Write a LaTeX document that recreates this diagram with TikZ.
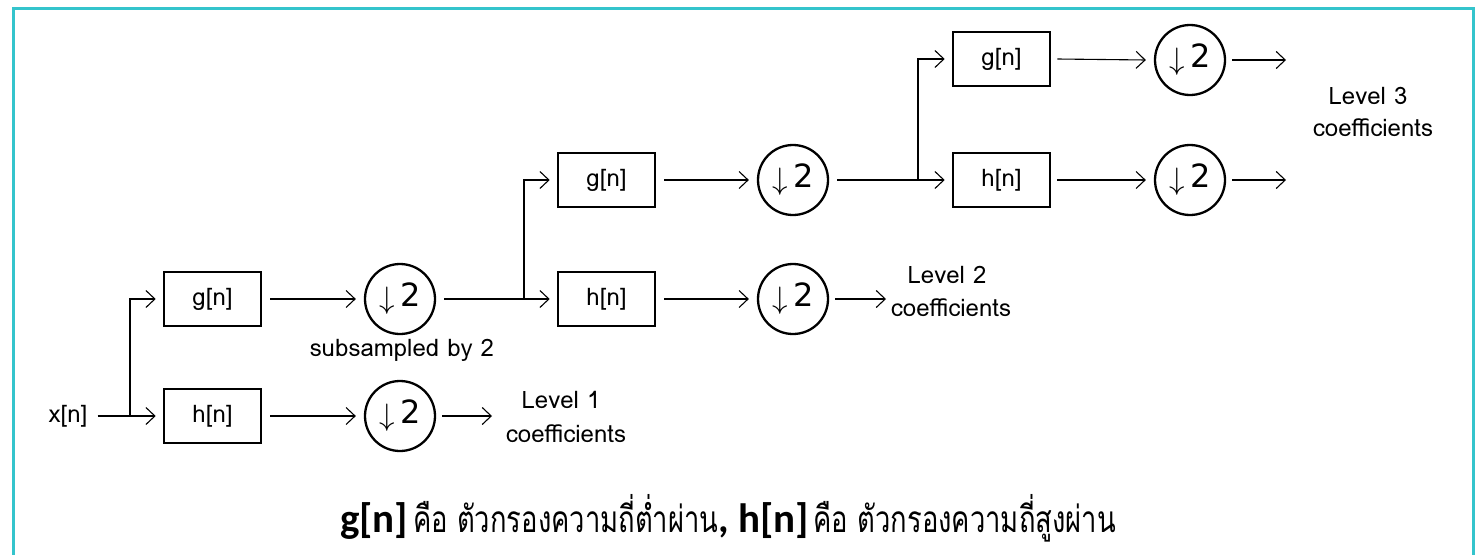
\documentclass[tikz,border=0pt]{standalone}
\usepackage{fontspec}
\usetikzlibrary{arrows.meta}
\newfontfamily\thaifont[Script=Thai]{Loma}
\newfontfamily\latfont{Loma}
\newfontfamily\dvfont{DejaVu Sans}
\newfontfamily\carlfont{Carlito}
\definecolor{framec}{RGB}{52,196,204}
\newcommand{\dntwo}{\raisebox{-2pt}{\scalebox{3.1}{$\downarrow$}}\hspace{5pt}{\dvfont\fontsize{32}{36}\selectfont 2}}
\tikzset{
  filt/.style={draw, line width=2.6pt, minimum width=97pt, minimum height=54pt, inner sep=0pt, font=\latfont\fontsize{24}{26}\selectfont},
  down/.style={draw, circle, line width=2.3pt, minimum size=70pt, inner sep=0pt},
  arr/.style={line width=1.1pt, -{Straight Barb[length=9pt,width=17pt,line width=1.1pt]}},
  lbl/.style={font=\latfont\fontsize{24}{26}\selectfont, inner sep=0pt},
}
\begin{document}
\begin{tikzpicture}[x=1pt,y=-1pt]
\useasboundingbox (0,0) rectangle (1479,554);
\fill[white] (0,0) rectangle (1479,554);
\draw[framec, line width=3pt] (13,556) -- (13,8) -- (1473,8) -- (1473,556);

% level 1
\node[lbl] (xn) at (68,416) {x[n]};
\coordinate (b1) at (130,416);
\node[filt] (g1) at (212.5,299) {g[n]};
\node[filt] (h1) at (212.5,416) {h[n]};
\node[down] (d1) at (400,299) {\dntwo};
\node[down] (d1b) at (400,416) {\dntwo};
\node[lbl] (sub) at (402,350) {subsampled by 2};
\coordinate (o1) at (492,416);
\node[lbl] (lv1a) at (561,400) {Level 1};
\node[lbl] (lv1b) at (566,434) {coefficients};

\draw[line width=1.1pt] ([xshift=10pt]xn.east) -- (b1);
\draw[arr] (b1) -- ([xshift=-7pt]h1.west);
\draw[arr] (b1) |- ([xshift=-7pt]g1.west);
\draw[arr] ([xshift=8pt]g1.east) -- ([xshift=-8pt]d1.west);
\draw[arr] ([xshift=8pt]h1.east) -- ([xshift=-8pt]d1b.west);
\draw[arr] ([xshift=6pt]d1b.east) -- (o1);

% level 2
\coordinate (b2) at (524,299);
\node[filt] (g2) at (606.5,180) {g[n]};
\node[filt] (h2) at (606.5,299) {h[n]};
\node[down] (d2) at (793,180) {\dntwo};
\node[down] (d2b) at (793,299) {\dntwo};
\coordinate (o2) at (886,299);
\node[lbl] (lv2a) at (947,275) {Level 2};
\node[lbl] (lv2b) at (951,308) {coefficients};

\draw[line width=2.4pt] ([xshift=8pt]d1.east) -- (b2);
\draw[arr] (b2) -- ([xshift=-7pt]h2.west);
\draw[arr] (b2) |- ([xshift=-7pt]g2.west);
\draw[arr] ([xshift=8pt]g2.east) -- ([xshift=-8pt]d2.west);
\draw[arr] ([xshift=8pt]h2.east) -- ([xshift=-8pt]d2b.west);
\draw[arr] ([xshift=6pt]d2b.east) -- (o2);

% level 3
\coordinate (b3) at (918,180);
\node[filt] (g3) at (1001.5,59) {g[n]};
\node[filt] (h3) at (1001.5,180) {h[n]};
\node[down] (d3) at (1190,60) {\dntwo};
\node[down] (d3b) at (1190,180) {\dntwo};
\coordinate (o3a) at (1286,60);
\coordinate (o3b) at (1286,180);
\node[lbl] (lv3a) at (1368,96) {Level 3};
\node[lbl] (lv3b) at (1373,128) {coefficients};

\draw[line width=1.1pt] ([xshift=8pt]d2.east) -- (b3);
\draw[arr] (b3) -- ([xshift=-7pt]h3.west);
\draw[arr] (b3) |- ([xshift=-7pt]g3.west);
\draw[arr] ([xshift=6pt]g3.east) -- ([xshift=-8pt]d3.west);
\draw[arr] ([xshift=6pt]h3.east) -- ([xshift=-8pt]d3b.west);
\draw[arr] ([xshift=6pt]d3.east) -- (o3a);
\draw[arr] ([xshift=6pt]d3b.east) -- (o3b);

% caption
\node[inner sep=0pt] (cap) at (728,518) {{\carlfont\bfseries\fontsize{41}{44}\selectfont g[n]}\hspace{5pt}\scalebox{0.74}[1]{\thaifont\fontsize{37}{40}\selectfont คือ ตัวกรองความถี่ต่ำผ่าน}{\carlfont\bfseries\fontsize{41}{44}\selectfont ,\hspace{9pt}h[n]}\hspace{5pt}\scalebox{0.74}[1]{\thaifont\fontsize{37}{40}\selectfont คือ ตัวกรองความถี่สูงผ่าน}};
\end{tikzpicture}
\end{document}
